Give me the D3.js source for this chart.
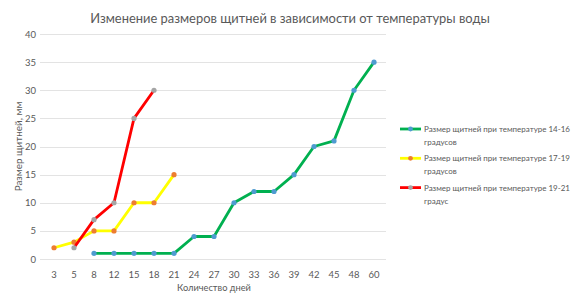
<!DOCTYPE html>
<html>
<head>
<meta charset="utf-8">
<script src="https://cdn.jsdelivr.net/npm/d3@7"></script>
<style>
  body { margin: 0; background: #fff; }
  text { font-family: Lato, "Noto Sans", sans-serif; fill: #595959; }
</style>
</head>
<body>
<div id="chart"></div>
<script>
// data
const days = ["3", "5", "8", "12", "15", "18", "21", "24", "27", "30", "33", "36", "39", "42", "45", "48", "60"];
const temp14_16 = [null, null, 1, 1, 1, 1, 1, 4, 4, 10, 12, 12, 15, 20, 21, 30, 35];
const temp17_19 = [2, 3, 5, 5, 10, 10, 15, null, null, null, null, null, null, null, null, null, null];
const temp19_21 = [null, 2, 7, 10, 25, 30, null, null, null, null, null, null, null, null, null, null, null];
const yTicks = [0, 5, 10, 15, 20, 25, 30, 35, 40];

const seriesNames = [
  ["Размер щитней при температуре 14-16", "градусов"],
  ["Размер щитней при температуре 17-19", "градусов"],
  ["Размер щитней при температуре 19-21", "градус"]
];
const lineColors = ["#00b050", "#ffff00", "#ff0000"];
const markerColors = ["#4f9bd0", "#ed7d31", "#a5a5a5"];
const series = [temp14_16, temp17_19, temp19_21];

const width = 582;
const height = 307;
const margin = { top: 34, right: 198, bottom: 48, left: 44 };

const svg = d3.select("#chart")
  .append("svg")
  .attr("width", width)
  .attr("height", height);

// shrink/grow a text's font size so its width matches the reference
function fitText(sel, target) {
  const fs = parseFloat(sel.style("font-size"));
  const w = sel.node().getComputedTextLength();
  sel.style("font-size", (fs * target / w).toFixed(2) + "px");
}

const xScale = d3.scaleBand()
  .domain(days)
  .range([margin.left, width - margin.right]);

const yScale = d3.scaleLinear()
  .domain([0, 40])
  .range([height - margin.bottom, margin.top]);

// gridlines
svg.append("g")
  .selectAll("line")
  .data(yTicks)
  .enter()
  .append("line")
  .attr("x1", margin.left - 4)
  .attr("x2", width - margin.right + 2)
  .attr("y1", d => Math.round(yScale(d)) + 0.5)
  .attr("y2", d => Math.round(yScale(d)) + 0.5)
  .attr("stroke", "#e3e3e3")
  .attr("stroke-width", 1);

// y-axis
const yAxis = d3.axisLeft(yScale).tickValues(yTicks).tickSize(0).tickPadding(6);
svg.append("g")
  .attr("transform", `translate(${margin.left - 2}, 0)`)
  .call(yAxis)
  .call(g => g.select(".domain").remove())
  .call(g => g.selectAll("text").style("font-size", "9.5px").style("font-family", "Lato").attr("fill", "#595959"));

// x-axis
const xAxis = d3.axisBottom(xScale).tickSize(0).tickPadding(12);
svg.append("g")
  .attr("transform", `translate(0, ${height - margin.bottom})`)
  .call(xAxis)
  .call(g => g.select(".domain").remove())
  .call(g => g.selectAll("text").style("font-size", "9.5px").style("font-family", "Lato").attr("fill", "#595959"));

// lines
const line = d3.line()
  .defined(d => d.v !== null)
  .x(d => xScale(d.day) + xScale.bandwidth() / 2)
  .y(d => yScale(d.v));

series.forEach((values, i) => {
  const pts = days.map((day, j) => ({ day: day, v: values[j] }));
  svg.append("path")
    .datum(pts)
    .attr("fill", "none")
    .attr("stroke", lineColors[i])
    .attr("stroke-width", 2.8)
    .attr("stroke-linejoin", "round")
    .attr("d", line);
  svg.append("g")
    .selectAll("circle")
    .data(pts.filter(d => d.v !== null))
    .enter()
    .append("circle")
    .attr("cx", d => xScale(d.day) + xScale.bandwidth() / 2)
    .attr("cy", d => yScale(d.v))
    .attr("r", 2.6)
    .attr("fill", markerColors[i])
    .attr("stroke", "none");
});

// title
svg.append("text")
  .attr("x", 290)
  .attr("y", 23)
  .attr("text-anchor", "middle")
  .style("font-size", "14px")
  .text("Изменение размеров щитней в зависимости от температуры воды")
  .call(fitText, 400);

// axis titles
svg.append("text")
  .attr("x", (margin.left + width - margin.right) / 2)
  .attr("y", 291)
  .attr("text-anchor", "middle")
  .style("font-size", "10px")
  .text("Количество дней")
  .call(fitText, 74);

svg.append("text")
  .attr("transform", `translate(22, ${(margin.top + height - margin.bottom) / 2}) rotate(-90)`)
  .attr("text-anchor", "middle")
  .style("font-size", "10px")
  .text("Размер щитней, мм")
  .call(fitText, 90);

// legend
const legend = svg.append("g");
seriesNames.forEach((name, i) => {
  const y = 129 + i * 29.3;
  legend.append("line")
    .attr("x1", 400).attr("x2", 421)
    .attr("y1", y).attr("y2", y)
    .attr("stroke", lineColors[i])
    .attr("stroke-width", 2.8);
  legend.append("circle")
    .attr("cx", 410.5).attr("cy", y).attr("r", 2.4)
    .attr("fill", markerColors[i]);
  const t1 = legend.append("text")
    .attr("x", 424).attr("y", y + 3)
    .style("font-size", "9px")
    .text(name[0])
    .call(fitText, 146);
  legend.append("text")
    .attr("x", 424).attr("y", y + 16)
    .style("font-size", t1.style("font-size"))
    .text(name[1]);
});
</script>
</body>
</html>
